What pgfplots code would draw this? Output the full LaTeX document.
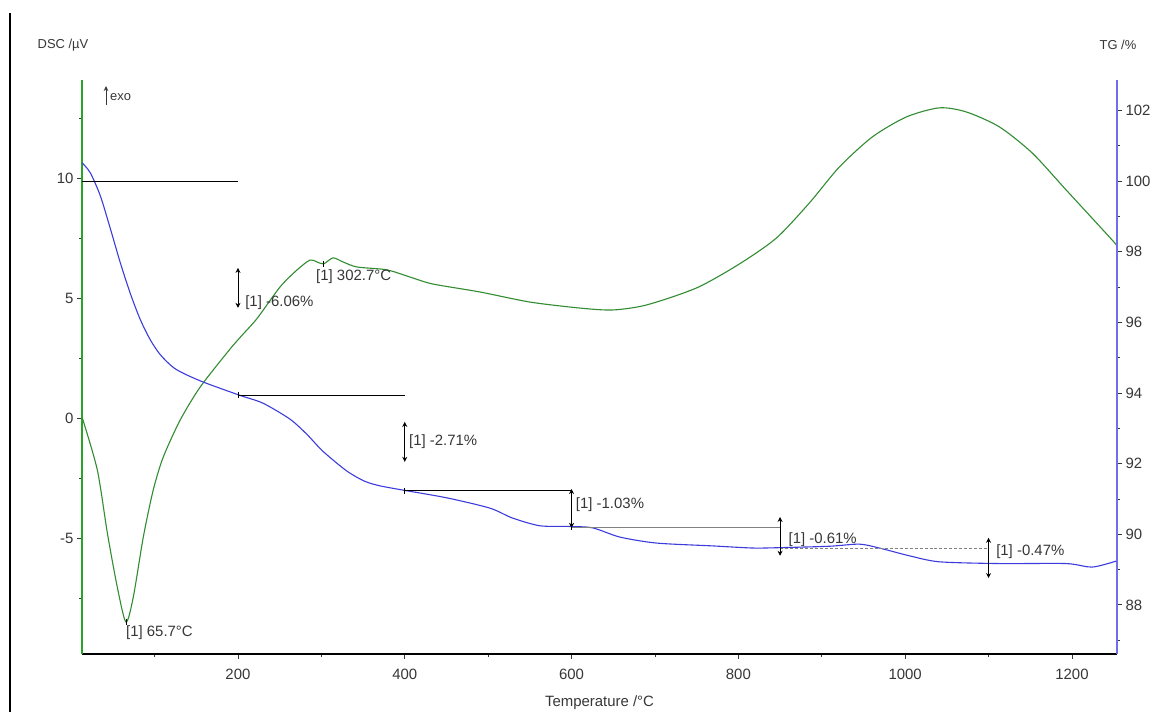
\documentclass[border=0pt]{standalone}
\usepackage{pgfplots}
\pgfplotsset{compat=1.18}
\usepackage{fontspec}
\setmainfont{Liberation Sans}
\usetikzlibrary{arrows.meta}
\definecolor{dscgreen}{RGB}{50,140,50}
\definecolor{tgblue}{RGB}{60,60,220}
\definecolor{axgreen}{RGB}{40,165,40}
\definecolor{axblue}{RGB}{110,110,235}
\definecolor{txt}{RGB}{55,55,55}
\newcommand{\lf}{\fontsize{15}{17}\selectfont}
\begin{document}
\begin{tikzpicture}[x=1bp,y=1bp]
\useasboundingbox (0,0) rectangle (1176,712);
\fill[white] (0,0) rectangle (1176,712);
\draw[black, line width=2bp] (9.5,0) -- (9.5,699);
\pgfplotsset{
  common/.style={
    at={(82bp,58bp)}, anchor=south west,
    width=1035bp, height=574bp, scale only axis,
    xmin=13, xmax=1254,
    tick align=outside,
    major tick length=5bp, minor tick length=3bp,
    every tick/.style={txt, line width=0.8bp},
    tick label style={font=\lf, text=txt},
    /pgf/number format/assume math mode=true,
    /pgf/number format/1000 sep={},
    clip=false,
  }
}
% ---------------- DSC axis ----------------
\begin{axis}[
  common,
  ymin=-9.83, ymax=14.08,
  axis x line*=bottom, axis y line*=left,
  x axis line style={black, line width=1.3bp},
  y axis line style={axgreen, line width=1.5bp},
  xtick={200,400,600,800,1000,1200},
  minor xtick={100,300,500,700,900,1100},
  ytick={-5,0,5,10},
  minor ytick={-7.5,-2.5,2.5,7.5,12.5},
  xticklabel style={yshift=-7bp},
  xlabel={Temperature /°C},
  xlabel style={font=\lf, text=txt, at={(axis description cs:0.5,0)}, anchor=center, yshift=-49bp},
]
\addplot[dscgreen, line width=1.1bp, smooth, tension=0.45, no marks] coordinates {
(13.4,0) (31.4,-2.17) (43.4,-4.79) (55.3,-7.04) (65.7,-8.5) (74.5,-7.46)
(86.5,-4.96) (98.4,-3.0) (110.4,-1.63) (130.8,-0.08) (154.7,1.29) (189.5,2.83)
(205,3.45) (223,4.15) (250.5,5.46) (270.9,6.17) (286.4,6.58) (294.8,6.5)
(302.7,6.42) (314,6.67) (326,6.5) (342.8,6.29) (378.7,6.17) (409.8,5.83)
(433.8,5.58) (490,5.25) (550,4.83) (609.8,4.58) (649.3,4.5) (690,4.71)
(750,5.42) (801.4,6.42) (845.7,7.5) (885.2,8.96) (921.2,10.46) (960.7,11.71)
(1001.4,12.54) (1041,12.92) (1073.2,12.75) (1112.8,12.13) (1152.3,11.04)
(1193,9.5) (1248,7.42) (1253,7.2)
};
% peak markers
\addplot[black, only marks, mark=|, mark size=3bp, line width=0.8bp] coordinates {(65.7,-8.5) (302.7,6.42)};
\node[anchor=west, inner sep=0, font=\lf, text=txt] at (axis cs:65.7,-8.96) {[1] 65.7°C};
\node[anchor=west, inner sep=0, font=\lf, text=txt] at (axis cs:293.6,5.875) {[1] 302.7°C};
\end{axis}
% ---------------- TG axis ----------------
\begin{axis}[
  common,
  ymin=86.61, ymax=102.86,
  axis x line=none, axis y line*=right,
  y axis line style={axblue, line width=1.5bp},
  ytick={88,90,92,94,96,98,100,102},
  minor ytick={87,89,91,93,95,97,99,101},
]
\addplot[tgblue, line width=1.1bp, smooth, tension=0.45, no marks] coordinates {
(13.4,100.51) (23,100.23) (35,99.58) (47,98.65) (59,97.68) (71,96.81)
(83,96.07) (95,95.50) (107,95.08) (125,94.68) (155,94.34) (201.4,93.94)
(230,93.71) (262.3,93.26) (282.6,92.83) (301.8,92.35) (330.5,91.79)
(352,91.50) (370.3,91.37) (397.8,91.25) (450.5,91.03) (502,90.74) (529,90.46)
(562,90.24) (598,90.22) (625.5,90.18) (657.9,89.92) (702,89.75)
(769,89.67) (817,89.61) (849,89.62) (909,89.66) (945,89.72) (969,89.61)
(1005,89.39) (1041,89.22) (1113,89.17) (1193,89.17) (1224,89.07) (1253,89.24)
};
% step lines
\addplot[black, line width=1bp, no marks] coordinates {(13,100) (200,100)};
\addplot[black, line width=1bp, no marks] coordinates {(200,93.94) (400,93.94)};
\addplot[black, line width=1bp, no marks] coordinates {(400,91.23) (600,91.23)};
\addplot[gray, line width=1bp, no marks] coordinates {(600,90.20) (850,90.20)};
\addplot[gray, line width=1bp, densely dashed, no marks] coordinates {(850,89.59) (1100,89.59)};
% arrows
\addplot[black, line width=0.8bp, {Stealth[length=5bp,width=5bp]}-{Stealth[length=5bp,width=5bp]}, no marks] coordinates {(200,97.54) (200,96.41)};
\addplot[black, line width=0.8bp, {Stealth[length=5bp,width=5bp]}-{Stealth[length=5bp,width=5bp]}, no marks] coordinates {(400,93.18) (400,92.05)};
\addplot[black, line width=0.8bp, {Stealth[length=5bp,width=5bp]}-{Stealth[length=5bp,width=5bp]}, no marks] coordinates {(600,91.28) (600,90.18)};
\addplot[black, line width=0.8bp, {Stealth[length=5bp,width=5bp]}-{Stealth[length=5bp,width=5bp]}, no marks] coordinates {(850,90.49) (850,89.39)};
\addplot[black, line width=0.8bp, {Stealth[length=5bp,width=5bp]}-{Stealth[length=5bp,width=5bp]}, no marks] coordinates {(1100,89.90) (1100,88.76)};
% step markers
\addplot[black, only marks, mark=|, mark size=3bp, line width=0.8bp] coordinates {(200,93.94) (400,91.23) (600,90.20)};
\node[anchor=west, inner sep=0, font=\lf, text=txt] at (axis cs:208.6,96.55) {[1] -6.06\%};
\node[anchor=west, inner sep=0, font=\lf, text=txt] at (axis cs:405,92.61) {[1] -2.71\%};
\node[anchor=west, inner sep=0, font=\lf, text=txt] at (axis cs:605,90.83) {[1] -1.03\%};
\node[anchor=west, inner sep=0, font=\lf, text=txt] at (axis cs:860,89.84) {[1] -0.61\%};
\node[anchor=west, inner sep=0, font=\lf, text=txt] at (axis cs:1109,89.50) {[1] -0.47\%};
\end{axis}
% header labels
\node[font=\fontsize{13}{15}\selectfont, text=txt] at (63,667) {DSC /µV};
\node[font=\fontsize{13}{15}\selectfont, text=txt] at (1118,667) {TG /\%};
\draw[txt, line width=1bp, -{Stealth[length=5bp,width=4.5bp]}] (106,607) -- (106,626);
\node[anchor=west, inner sep=0, font=\fontsize{13}{15}\selectfont, text=txt] at (110,615) {exo};
\end{tikzpicture}
\end{document}
